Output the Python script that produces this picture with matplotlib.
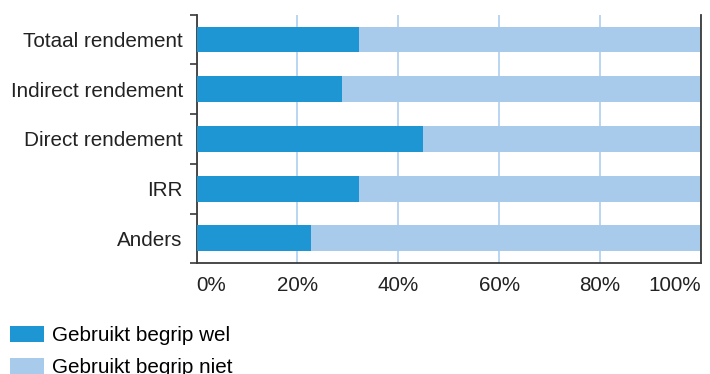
import matplotlib.pyplot as plt
from matplotlib.ticker import FuncFormatter

# === Data ===
categories = ["Totaal rendement", "Indirect rendement", "Direct rendement", "IRR", "Anders"]
wel = [32.3, 28.8, 44.8, 32.3, 22.7]
niet = [100 - v for v in wel]
series_labels = ["Gebruikt begrip wel", "Gebruikt begrip niet"]
x_ticks = [0, 20, 40, 60, 80, 100]

# === Style ===
DARK = "#1e96d4"
LIGHT = "#a8caeb"
GRID = "#b3d2ef"
SPINE = "#3a3a3a"
plt.rcParams['font.family'] = ['Liberation Sans', 'DejaVu Sans']
FS = 14.9

fig = plt.figure(figsize=(7.10, 3.74), dpi=100)
ax = fig.add_axes([0.277, 0.296, 0.710, 0.665])

pos = list(range(len(categories)))
ax.barh(pos, wel, height=0.52, color=DARK, label=series_labels[0], zorder=3)
ax.barh(pos, niet, left=wel, height=0.52, color=LIGHT, label=series_labels[1], zorder=3)

ax.set_xlim(0, 100)
ax.set_ylim(len(categories) - 0.5, -0.5)

# category labels centered on bars, tick marks at boundaries
ax.set_yticks(pos)
ax.set_yticklabels(categories, fontsize=FS, color="#222222")
ax.tick_params(axis='y', which='major', length=0, pad=10)
ax.set_yticks([p - 0.5 for p in range(len(categories) + 1)], minor=True)
ax.tick_params(axis='y', which='minor', length=5, width=1.2, color=SPINE, direction='out')

ax.set_xticks(x_ticks)
ax.xaxis.set_major_formatter(FuncFormatter(lambda v, p: f"{v:.0f}%"))
ax.tick_params(axis='x', length=0, pad=9, labelsize=FS, labelcolor="#222222")
xl = ax.get_xticklabels()
xl[0].set_horizontalalignment('left')
xl[-1].set_horizontalalignment('right')

ax.grid(axis='x', color=GRID, linewidth=1.3, zorder=0)
ax.grid(axis='y', visible=False)

for side in ['left', 'bottom', 'right']:
    ax.spines[side].set_color(SPINE)
    ax.spines[side].set_linewidth(1.3)
ax.spines['top'].set_visible(False)
ax.spines['right'].set_zorder(4)

fig.legend(loc='upper left', bbox_to_anchor=(0.014, 0.129), frameon=False,
           fontsize=FS, handlelength=1.63, handleheight=0.82, handletextpad=0.38,
           labelspacing=0.63, borderaxespad=0, borderpad=0)

fig.savefig("out.png", dpi=100)
